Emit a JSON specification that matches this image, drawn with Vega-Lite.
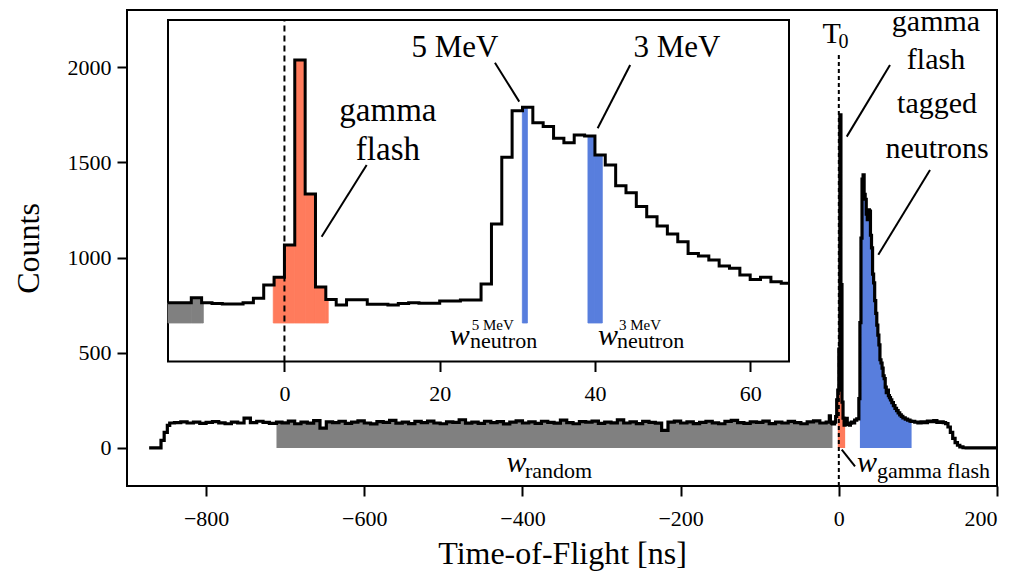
{
  "$schema": "https://vega.github.io/schema/vega-lite/v6.json",
  "width": 870,
  "height": 476,
  "autosize": "none",
  "padding": {"left": 127, "top": 10, "right": 20, "bottom": 88},
  "background": "white",
  "config": {
    "font": "Liberation Serif",
    "view": {"stroke": "black", "strokeWidth": 2},
    "axis": {
      "domain": false, "grid": false, "ticks": true,
      "tickColor": "black", "tickWidth": 2, "tickSize": 10, "tickOpacity": 1,
      "labelFont": "Liberation Serif", "labelFontSize": 22, "labelColor": "black",
      "titleFont": "Liberation Serif", "titleFontSize": 32, "titleFontWeight": "normal", "titleColor": "black"
    }
  },
  "datasets": {
    "tof": [
      {"x": -872, "c": 0}, {"x": -861, "c": 0}, {"x": -857, "c": 40}, {"x": -853, "c": 82}, {"x": -849, "c": 118}, {"x": -846, "c": 131},
      {"x": -840, "c": 133}, {"x": -832, "c": 137}, {"x": -824, "c": 131}, {"x": -816, "c": 136}, {"x": -808, "c": 129}, {"x": -800, "c": 134},
      {"x": -792, "c": 138}, {"x": -784, "c": 132}, {"x": -776, "c": 127}, {"x": -768, "c": 135}, {"x": -760, "c": 131}, {"x": -752, "c": 156},
      {"x": -744, "c": 133}, {"x": -736, "c": 140}, {"x": -728, "c": 134}, {"x": -720, "c": 129}, {"x": -711, "c": 136}, {"x": -704, "c": 132},
      {"x": -696, "c": 141}, {"x": -688, "c": 127}, {"x": -680, "c": 135}, {"x": -672, "c": 130}, {"x": -664, "c": 143}, {"x": -656, "c": 104},
      {"x": -648, "c": 137}, {"x": -640, "c": 133}, {"x": -632, "c": 140}, {"x": -624, "c": 129}, {"x": -616, "c": 136}, {"x": -608, "c": 142},
      {"x": -600, "c": 131}, {"x": -592, "c": 126}, {"x": -584, "c": 138}, {"x": -576, "c": 134}, {"x": -568, "c": 145}, {"x": -560, "c": 130},
      {"x": -552, "c": 136}, {"x": -544, "c": 128}, {"x": -536, "c": 139}, {"x": -528, "c": 133}, {"x": -520, "c": 141}, {"x": -512, "c": 131},
      {"x": -504, "c": 127}, {"x": -496, "c": 137}, {"x": -488, "c": 134}, {"x": -480, "c": 148}, {"x": -472, "c": 130}, {"x": -464, "c": 136},
      {"x": -456, "c": 129}, {"x": -448, "c": 140}, {"x": -440, "c": 133}, {"x": -432, "c": 138}, {"x": -424, "c": 126}, {"x": -416, "c": 135},
      {"x": -408, "c": 142}, {"x": -400, "c": 131}, {"x": -392, "c": 137}, {"x": -384, "c": 129}, {"x": -376, "c": 140}, {"x": -368, "c": 134},
      {"x": -360, "c": 130}, {"x": -352, "c": 146}, {"x": -344, "c": 133}, {"x": -336, "c": 127}, {"x": -328, "c": 138}, {"x": -320, "c": 135},
      {"x": -312, "c": 141}, {"x": -304, "c": 129}, {"x": -296, "c": 136}, {"x": -288, "c": 132}, {"x": -280, "c": 147}, {"x": -272, "c": 131},
      {"x": -264, "c": 137}, {"x": -256, "c": 128}, {"x": -248, "c": 139}, {"x": -240, "c": 134}, {"x": -232, "c": 130}, {"x": -224, "c": 92},
      {"x": -216, "c": 135}, {"x": -208, "c": 141}, {"x": -200, "c": 131}, {"x": -192, "c": 137}, {"x": -184, "c": 128}, {"x": -176, "c": 134},
      {"x": -168, "c": 140}, {"x": -160, "c": 132}, {"x": -152, "c": 127}, {"x": -144, "c": 139}, {"x": -136, "c": 145}, {"x": -128, "c": 133},
      {"x": -120, "c": 129}, {"x": -112, "c": 137}, {"x": -104, "c": 134}, {"x": -96, "c": 141}, {"x": -88, "c": 128}, {"x": -80, "c": 136},
      {"x": -72, "c": 131}, {"x": -64, "c": 139}, {"x": -56, "c": 133}, {"x": -48, "c": 127}, {"x": -40, "c": 137}, {"x": -32, "c": 142},
      {"x": -24, "c": 131}, {"x": -16, "c": 135}, {"x": -15, "c": 135}, {"x": -14.67, "c": 135}, {"x": -13.33, "c": 135}, {"x": -12, "c": 168},
      {"x": -10.67, "c": 135}, {"x": -9.33, "c": 130}, {"x": -8, "c": 126}, {"x": -6.67, "c": 126}, {"x": -5.33, "c": 135}, {"x": -4, "c": 165},
      {"x": -2.67, "c": 253}, {"x": -1.33, "c": 304}, {"x": 0, "c": 519}, {"x": 1.33, "c": 1749}, {"x": 2.67, "c": 858}, {"x": 4, "c": 240},
      {"x": 5.33, "c": 157}, {"x": 6.67, "c": 120}, {"x": 8, "c": 155}, {"x": 9.33, "c": 155}, {"x": 10.67, "c": 124}, {"x": 12, "c": 124},
      {"x": 13.33, "c": 120}, {"x": 14.67, "c": 130}, {"x": 16, "c": 135}, {"x": 17.33, "c": 131}, {"x": 18.67, "c": 131}, {"x": 20, "c": 146},
      {"x": 21.33, "c": 146}, {"x": 22.67, "c": 153}, {"x": 24, "c": 153}, {"x": 25.33, "c": 259}, {"x": 26.67, "c": 658}, {"x": 28, "c": 1102},
      {"x": 29.33, "c": 1412}, {"x": 30.67, "c": 1434}, {"x": 32, "c": 1332}, {"x": 33.33, "c": 1306}, {"x": 34.67, "c": 1228}, {"x": 36, "c": 1199},
      {"x": 37.33, "c": 1250}, {"x": 38.67, "c": 1244}, {"x": 40, "c": 1117}, {"x": 41.33, "c": 1051}, {"x": 42.67, "c": 913}, {"x": 44, "c": 867},
      {"x": 45.33, "c": 774}, {"x": 46.67, "c": 707}, {"x": 48, "c": 645}, {"x": 49.33, "c": 592}, {"x": 50.67, "c": 541}, {"x": 52, "c": 463},
      {"x": 53.33, "c": 446}, {"x": 54.67, "c": 419}, {"x": 56, "c": 379}, {"x": 57.33, "c": 364}, {"x": 58.67, "c": 319}, {"x": 60, "c": 290},
      {"x": 61.33, "c": 304}, {"x": 62.67, "c": 275}, {"x": 64, "c": 264}, {"x": 65, "c": 264}, {"x": 65.33, "c": 252}, {"x": 67, "c": 238},
      {"x": 69, "c": 222}, {"x": 71, "c": 208}, {"x": 73, "c": 196}, {"x": 75, "c": 184}, {"x": 77, "c": 174}, {"x": 79, "c": 166},
      {"x": 81, "c": 158}, {"x": 84, "c": 151}, {"x": 87, "c": 146}, {"x": 90, "c": 141}, {"x": 92, "c": 139}, {"x": 96, "c": 136},
      {"x": 100, "c": 131}, {"x": 104, "c": 137}, {"x": 108, "c": 133}, {"x": 112, "c": 141}, {"x": 116, "c": 138}, {"x": 120, "c": 143},
      {"x": 124, "c": 134}, {"x": 128, "c": 137}, {"x": 132, "c": 133}, {"x": 135, "c": 128}, {"x": 138, "c": 110}, {"x": 141, "c": 82},
      {"x": 144, "c": 50}, {"x": 147, "c": 28}, {"x": 150, "c": 14}, {"x": 153, "c": 6}, {"x": 157, "c": 1}, {"x": 161, "c": 0}, {"x": 200, "c": 0}
    ],
    "mainText": [
      {"x": 122.9, "c": 2189, "t": "gamma", "k": "ann"},
      {"x": 122.9, "c": 1990, "t": "flash", "k": "ann"},
      {"x": 124.2, "c": 1759, "t": "tagged", "k": "ann"},
      {"x": 124.2, "c": 1523, "t": "neutrons", "k": "ann"},
      {"x": -9.2, "c": 2126, "t": "T", "k": "ann"},
      {"x": 5.9, "c": 2100, "t": "0", "k": "sub0"},
      {"x": -396.8, "c": -157, "t": "random", "k": "sub"},
      {"x": 48.3, "c": -156, "t": "gamma flash", "k": "sub"}
    ],
    "mainW": [{"x": -407.5, "c": -124, "t": "w"}, {"x": 35.5, "c": -124, "t": "w"}],
    "mainLines": [
      {"x": 64.7, "c": 2011, "x2": 10.0, "c2": 1635},
      {"x": 115.3, "c": 1460, "x2": 49.9, "c2": 1014},
      {"x": 3.7, "c": -9, "x2": 20.5, "c2": -97}
    ],
    "mainT0": [{"x": 0, "c": -200, "c2": 2063}],
    "insetBox": [{"x": -15, "x2": 65, "c": -256, "c2": 2015}],
    "insetZero": [{"x": 0, "c": -256, "c2": 2015}],
    "insetFills": [
      {"x": -15, "x2": -12, "c": 135, "k": "random"},
      {"x": -12, "x2": -10.67, "c": 168, "k": "random"},
      {"x": -10.67, "x2": -10.45, "c": 135, "k": "random"},
      {"x": -1.44, "x2": 0, "c": 304, "k": "gamma"},
      {"x": 0, "x2": 1.33, "c": 519, "k": "gamma"},
      {"x": 1.33, "x2": 2.67, "c": 1749, "k": "gamma"},
      {"x": 2.67, "x2": 4, "c": 858, "k": "gamma"},
      {"x": 4, "x2": 5.33, "c": 240, "k": "gamma"},
      {"x": 5.33, "x2": 5.64, "c": 157, "k": "gamma"},
      {"x": 30.65, "x2": 31.3, "c": 1434, "k": "neutron"},
      {"x": 39.1, "x2": 40, "c": 1244, "k": "neutron"},
      {"x": 40, "x2": 40.95, "c": 1117, "k": "neutron"}
    ],
    "insetText": [
      {"x": 13.33, "c": 1343, "t": "gamma", "k": "ann33"},
      {"x": 13.33, "c": 1084, "t": "flash", "k": "ann33"},
      {"x": 21.96, "c": 1769, "t": "5 MeV", "k": "ann31"},
      {"x": 50.56, "c": 1769, "t": "3 MeV", "k": "ann31"},
      {"x": 24.12, "c": -47, "t": "5 MeV", "k": "sup15"},
      {"x": 43.1, "c": -47, "t": "3 MeV", "k": "sup15"},
      {"x": 23.9, "c": -166, "t": "neutron", "k": "sub22"},
      {"x": 42.84, "c": -166, "t": "neutron", "k": "sub22"}
    ],
    "insetW": [{"x": 22.6, "c": -146, "t": "w"}, {"x": 41.67, "c": -146, "t": "w"}],
    "insetLines": [
      {"x": 10.59, "c": 1051, "x2": 4.79, "c2": 574},
      {"x": 27.12, "c": 1731, "x2": 30.25, "c2": 1472},
      {"x": 44.54, "c": 1716, "x2": 40.35, "c2": 1295}
    ]
  },
  "layer": [
    {
      "encoding": {
        "x": {"field": "x", "type": "quantitative",
          "scale": {"domain": [-900, 200], "nice": false, "zero": false},
          "axis": {"values": [-800, -600, -400, -200, 0, 200], "format": "d", "labelPadding": 12, "titlePadding": 9,
            "ticks": true, "tickSize": 10, "tickWidth": 2, "tickColor": "#000000", "zindex": 2,
            "encode": {"ticks": {"update": {"stroke": {"value": "#000000"}, "strokeWidth": {"value": 2}, "strokeOpacity": {"value": 1}}}}},
          "title": "Time-of-Flight [ns]"},
        "y": {"field": "c", "type": "quantitative",
          "scale": {"domain": [-200, 2300], "nice": false, "zero": false},
          "axis": {"values": [0, 500, 1000, 1500, 2000], "format": "d", "labelPadding": 6, "titlePadding": 22,
            "ticks": true, "tickSize": 10, "tickWidth": 2, "tickColor": "#000000", "zindex": 2,
            "encode": {"ticks": {"update": {"stroke": {"value": "#000000"}, "strokeWidth": {"value": 2}, "strokeOpacity": {"value": 1}}}}},
          "title": "Counts"}
      },
      "layer": [
        {"data": {"name": "tof"}, "transform": [{"filter": "datum.x >= -711 && datum.x <= -8"}],
          "mark": {"type": "area", "interpolate": "step-after", "color": "#808080"},
          "encoding": {"y2": {"datum": 0}}},
        {"data": {"name": "tof"}, "transform": [{"filter": "datum.x >= -1.5 && datum.x <= 8.1"}],
          "mark": {"type": "area", "interpolate": "step-after", "color": "#ff7b5c"},
          "encoding": {"y2": {"datum": 0}}},
        {"data": {"name": "tof"}, "transform": [{"filter": "datum.x >= 26 && datum.x <= 92.5"}],
          "mark": {"type": "area", "interpolate": "step-after", "color": "#587edd"},
          "encoding": {"y2": {"datum": 0}}},
        {"data": {"name": "mainT0"},
          "mark": {"type": "rule", "color": "black", "strokeWidth": 2, "strokeDash": [4, 3]},
          "encoding": {"y2": {"field": "c2"}}},
        {"data": {"name": "tof"},
          "mark": {"type": "line", "interpolate": "step-after", "color": "black", "strokeWidth": 3.2}},
        {"data": {"name": "mainLines"},
          "mark": {"type": "rule", "color": "black", "strokeWidth": 2},
          "encoding": {"x2": {"field": "x2"}, "y2": {"field": "c2"}}},
        {"data": {"name": "mainText"}, "transform": [{"filter": "datum.k == 'ann'"}],
          "mark": {"type": "text", "align": "center", "baseline": "alphabetic", "color": "black", "font": "Liberation Serif", "fontSize": 30},
          "encoding": {"text": {"field": "t"}}},
        {"data": {"name": "mainText"}, "transform": [{"filter": "datum.k == 'sub0'"}],
          "mark": {"type": "text", "align": "center", "baseline": "alphabetic", "color": "black", "font": "Liberation Serif", "fontSize": 20},
          "encoding": {"text": {"field": "t"}}},
        {"data": {"name": "mainText"}, "transform": [{"filter": "datum.k == 'sub'"}],
          "mark": {"type": "text", "align": "left", "baseline": "alphabetic", "color": "black", "font": "Liberation Serif", "fontSize": 22},
          "encoding": {"text": {"field": "t"}}},
        {"data": {"name": "mainW"},
          "mark": {"type": "text", "align": "center", "baseline": "alphabetic", "color": "black", "font": "Liberation Serif", "fontStyle": "italic", "fontSize": 30},
          "encoding": {"text": {"field": "t"}}}
      ]
    },
    {
      "encoding": {
        "x": {"field": "x", "type": "quantitative",
          "scale": {"domain": [-15, 65], "range": [41, 662], "nice": false, "zero": false},
          "axis": {"orient": "bottom", "offset": -124.5, "values": [0, 20, 40, 60], "labelPadding": 12, "title": null,
            "ticks": true, "tickSize": 10, "tickWidth": 2, "tickColor": "#000000", "zindex": 2,
            "encode": {"ticks": {"update": {"stroke": {"value": "#000000"}, "strokeWidth": {"value": 2}, "strokeOpacity": {"value": 1}}}}}},
        "y": {"field": "c", "type": "quantitative",
          "scale": {"domain": [-256, 2015], "range": [351.5, 10], "nice": false, "zero": false},
          "axis": null}
      },
      "layer": [
        {"data": {"name": "insetBox"},
          "mark": {"type": "rect", "fill": "white", "stroke": "black", "strokeWidth": 2},
          "encoding": {"x2": {"field": "x2"}, "y2": {"field": "c2"}}},
        {"data": {"name": "insetFills"},
          "mark": {"type": "rect", "strokeWidth": 0.8},
          "encoding": {"x2": {"field": "x2"}, "y2": {"datum": 0},
            "color": {"field": "k", "type": "nominal", "scale": {"domain": ["random", "gamma", "neutron"], "range": ["#808080", "#ff7b5c", "#587edd"]}, "legend": null},
            "stroke": {"field": "k", "type": "nominal", "scale": {"domain": ["random", "gamma", "neutron"], "range": ["#808080", "#ff7b5c", "#587edd"]}, "legend": null}}},
        {"data": {"name": "insetZero"},
          "mark": {"type": "rule", "color": "black", "strokeWidth": 2, "strokeDash": [6, 4]},
          "encoding": {"y2": {"field": "c2"}}},
        {"data": {"name": "tof"}, "transform": [{"filter": "datum.x >= -15 && datum.x <= 65"}],
          "mark": {"type": "line", "interpolate": "step-after", "color": "black", "strokeWidth": 3}},
        {"data": {"name": "insetLines"},
          "mark": {"type": "rule", "color": "black", "strokeWidth": 2},
          "encoding": {"x2": {"field": "x2"}, "y2": {"field": "c2"}}},
        {"data": {"name": "insetText"}, "transform": [{"filter": "datum.k == 'ann33'"}],
          "mark": {"type": "text", "align": "center", "baseline": "alphabetic", "color": "black", "font": "Liberation Serif", "fontSize": 33},
          "encoding": {"text": {"field": "t"}}},
        {"data": {"name": "insetText"}, "transform": [{"filter": "datum.k == 'ann31'"}],
          "mark": {"type": "text", "align": "center", "baseline": "alphabetic", "color": "black", "font": "Liberation Serif", "fontSize": 31},
          "encoding": {"text": {"field": "t"}}},
        {"data": {"name": "insetText"}, "transform": [{"filter": "datum.k == 'sup15'"}],
          "mark": {"type": "text", "align": "left", "baseline": "alphabetic", "color": "black", "font": "Liberation Serif", "fontSize": 15},
          "encoding": {"text": {"field": "t"}}},
        {"data": {"name": "insetText"}, "transform": [{"filter": "datum.k == 'sub22'"}],
          "mark": {"type": "text", "align": "left", "baseline": "alphabetic", "color": "black", "font": "Liberation Serif", "fontSize": 22},
          "encoding": {"text": {"field": "t"}}},
        {"data": {"name": "insetW"},
          "mark": {"type": "text", "align": "center", "baseline": "alphabetic", "color": "black", "font": "Liberation Serif", "fontStyle": "italic", "fontSize": 30},
          "encoding": {"text": {"field": "t"}}}
      ]
    }
  ],
  "resolve": {"scale": {"x": "independent", "y": "independent", "color": "independent", "stroke": "independent"}}
}
